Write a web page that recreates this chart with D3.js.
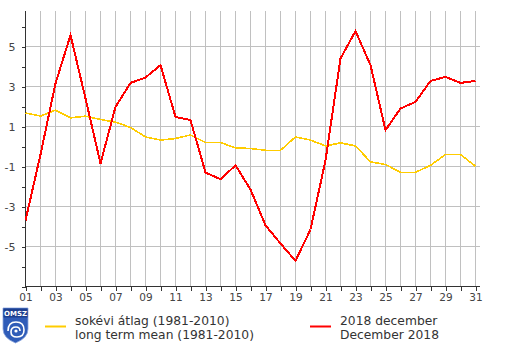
<!DOCTYPE html>
<html><head><meta charset="utf-8">
<script src="https://cdn.jsdelivr.net/npm/d3@7"></script>
<style>body{margin:0;background:#fff;}svg{display:block;}</style>
</head><body>
<svg id="c" width="505" height="346"></svg>
<script>
const days = d3.range(1, 32);
const xTickLabels = ["01","03","05","07","09","11","13","15","17","19","21","23","25","27","29","31"];
const yTickLabels = [5, 3, 1, -1, -3, -5];
const meanValues = [1.68,1.52,1.82,1.43,1.52,1.35,1.22,0.95,0.48,0.32,0.4,0.58,0.2,0.2,-0.07,-0.1,-0.19,-0.19,0.48,0.32,0.03,0.18,0.03,-0.77,-0.9,-1.29,-1.29,-0.94,-0.4,-0.4,-0.99];
const decValues = [-3.7,-0.4,3.15,5.57,2.4,-0.85,1.98,3.18,3.45,4.07,1.48,1.32,-1.3,-1.64,-0.94,-2.15,-3.94,-4.85,-5.72,-4.15,-0.7,4.4,5.77,4.07,0.82,1.9,2.23,3.28,3.48,3.18,3.28];
const legendMean = ["sokévi átlag (1981-2010)", "long term mean (1981-2010)"];
const legendDec = ["2018 december", "December 2018"];

const svg = d3.select("#c");
const x = d3.scaleLinear().domain([1, 31]).range([25.5, 475.5]);
const y = d3.scaleLinear().domain([-7, 6.8]).range([286.5, 10.5]);
const xRight = 480;
const font = "'DejaVu Sans', Verdana, sans-serif";

// grid
const g = svg.append("g").attr("shape-rendering", "crispEdges");
g.selectAll(".vg").data(days.slice(1)).enter().append("line")
  .attr("x1", d => x(d)).attr("x2", d => x(d)).attr("y1", y.range()[1]).attr("y2", y.range()[0])
  .attr("stroke", "#c0c0c0").attr("stroke-width", 1);
g.selectAll(".hg").data(yTickLabels).enter().append("line")
  .attr("x1", x(1)).attr("x2", xRight).attr("y1", d => y(d)).attr("y2", d => y(d))
  .attr("stroke", "#c0c0c0").attr("stroke-width", 1);

// axes
const yAxis = d3.axisLeft(y).tickValues(d3.range(-7, 7)).tickSize(4).tickPadding(6)
  .tickFormat(d => yTickLabels.includes(d) ? String(d) : "");
const ya = svg.append("g").attr("transform", `translate(${x(1)},0)`).call(yAxis);
ya.select(".domain").remove();
ya.append("line").attr("x1", 0).attr("x2", 0).attr("y1", y.range()[1]).attr("y2", y.range()[0]).attr("stroke", "#333");
ya.selectAll(".tick line").attr("stroke", "#333");
ya.selectAll("text").attr("font-family", font).attr("font-size", 11).attr("fill", "#444");

const xAxis = d3.axisBottom(x).tickValues(days).tickSize(4).tickPadding(3)
  .tickFormat(d => d % 2 === 1 ? xTickLabels[(d - 1) / 2] : "");
const xa = svg.append("g").attr("transform", `translate(0,${y(-7)})`).call(xAxis);
xa.select(".domain").remove();
xa.append("line").attr("x1", x(1)).attr("x2", xRight).attr("y1", 0).attr("y2", 0).attr("stroke", "#333");
xa.selectAll(".tick line").attr("stroke", "#333");
xa.selectAll("text").attr("font-family", font).attr("font-size", 10.5).attr("fill", "#444");
svg.selectAll(".tick line").attr("shape-rendering", "crispEdges");
svg.selectAll("g > line").attr("shape-rendering", "crispEdges");

// lines
const line = d3.line().x((d, i) => x(days[i])).y(d => y(d));
svg.append("path").datum(meanValues).attr("d", line).attr("fill", "none")
  .attr("stroke", "#ffcc00").attr("stroke-width", 1.6).attr("shape-rendering", "crispEdges");
svg.append("path").datum(decValues).attr("d", line).attr("fill", "none")
  .attr("stroke", "#ff0000").attr("stroke-width", 2).attr("shape-rendering", "crispEdges");

// legend
const lg = svg.append("g");
lg.append("line").attr("x1", 45).attr("x2", 66).attr("y1", 326.5).attr("y2", 326.5).attr("stroke", "#ffcc00").attr("stroke-width", 2);
lg.append("line").attr("x1", 310).attr("x2", 331).attr("y1", 326.5).attr("y2", 326.5).attr("stroke", "#ff0000").attr("stroke-width", 2);
legendMean.forEach((t, i) => lg.append("text").attr("x", 75).attr("y", 325 + i * 14).text(t)
  .attr("font-family", font).attr("font-size", 12.3).attr("fill", "#333"));
legendDec.forEach((t, i) => lg.append("text").attr("x", 340).attr("y", 325 + i * 14).text(t)
  .attr("font-family", font).attr("font-size", 12.3).attr("fill", "#333"));

// logo
const logo = svg.append("g");
logo.append("path").attr("d", "M3,308 H28 V329 Q28,338 15.5,343 Q3,338 3,329 Z").attr("fill", "#2f5cb8").attr("stroke", "#8aa4dc").attr("stroke-width", 0.8);
logo.append("rect").attr("x", 3.5).attr("y", 308.5).attr("width", 24).attr("height", 9).attr("fill", "#1d3f8f");
logo.append("text").attr("x", 15.5).attr("y", 316).attr("text-anchor", "middle").text("OMSZ")
  .attr("font-family", font).attr("font-size", 7).attr("font-weight", "bold").attr("fill", "#fff");
logo.append("path").attr("d", "M8,331 Q8,322 16,322 Q24,322 24,330 Q24,337 17,337 Q11,337 11,332 Q11,327 16,327 Q20,327 20,331")
  .attr("fill", "none").attr("stroke", "#fff").attr("stroke-width", 1.6);
logo.append("circle").attr("cx", 16).attr("cy", 331).attr("r", 1.6).attr("fill", "#fff");
</script>
</body></html>
